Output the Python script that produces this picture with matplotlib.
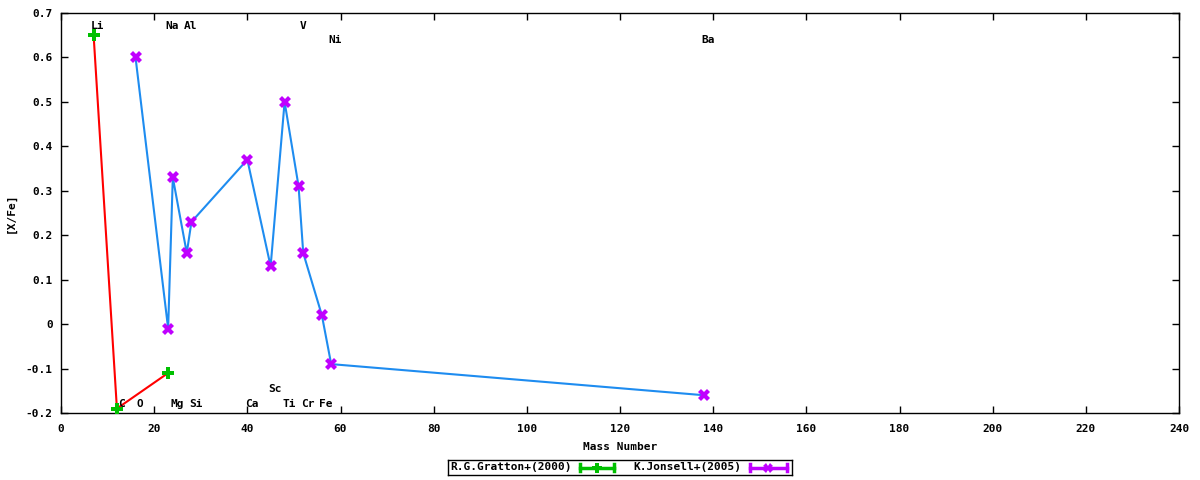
import matplotlib
matplotlib.use("Agg")
import matplotlib.pyplot as plt
from matplotlib.ticker import MultipleLocator, FuncFormatter

plt.rcParams['font.family'] = ['DejaVu Sans Mono']
plt.rcParams['font.size'] = 8
plt.rcParams['font.weight'] = 'bold'

# R.G.Gratton+(2000)
gratton_mass = [7, 12, 23]
gratton_xfe = [0.65, -0.19, -0.11]

# K.Jonsell+(2005)
jonsell_mass = [16, 23, 24, 27, 28, 40, 45, 48, 51, 52, 56, 58, 138]
jonsell_xfe = [0.60, -0.01, 0.33, 0.16, 0.23, 0.37, 0.13, 0.50, 0.31, 0.16, 0.02, -0.09, -0.16]

# element labels (name, mass number, height)
elem_names = ['Li', 'Na', 'Al', 'V', 'Ni', 'Ba', 'C', 'O', 'Mg', 'Si', 'Ca', 'Sc', 'Ti', 'Cr', 'Fe']
elem_mass = [7, 23, 27, 51, 58, 138, 12, 16, 24, 28, 40, 45, 48, 52, 56]
elem_y = [0.67, 0.67, 0.67, 0.67, 0.64, 0.64, -0.18, -0.18, -0.18, -0.18, -0.18, -0.145, -0.18, -0.18, -0.18]

fig = plt.figure(figsize=(12, 4.8), dpi=100)
ax = fig.add_axes([61/1200, 67/480, 1118/1200, 400/480])

ax.plot(gratton_mass, gratton_xfe, color='#ff0000', lw=1.5, zorder=2)
ax.plot(gratton_mass, gratton_xfe, ls='none', marker='P', ms=8, color='#00c000', mew=0, zorder=3)
ax.plot(jonsell_mass, jonsell_xfe, color='#1e8cf0', lw=1.5, zorder=2)
ax.plot(jonsell_mass, jonsell_xfe, ls='none', marker='X', ms=8, color='#c000ff', mew=0, zorder=3)

for name, m, y in zip(elem_names, elem_mass, elem_y):
    ax.annotate(name, (m, y), xytext=(3, 0), textcoords='offset points',
                ha='center', va='center', fontsize=8, fontweight='bold', zorder=4)

ax.set_xlim(0, 240)
ax.set_ylim(-0.2, 0.7)
ax.xaxis.set_major_locator(MultipleLocator(20))
ax.yaxis.set_major_locator(MultipleLocator(0.1))
ax.yaxis.set_major_formatter(FuncFormatter(lambda v, p: '0' if abs(v) < 1e-9 else '%.1f' % v))
ax.tick_params(direction='in', top=True, right=True, length=5, width=1, labelsize=8)
ax.tick_params(axis='x', pad=8)
ax.tick_params(axis='y', pad=6)
for s in ax.spines.values():
    s.set_linewidth(1)
ax.set_xlabel('Mass Number', fontsize=8, fontweight='bold', labelpad=6)
ax.set_ylabel('[X/Fe]', fontsize=8, fontweight='bold', labelpad=7)

# legend box below the plot
lg = fig.add_axes([448/1200, 5/480, 344/1200, 15/480])
lg.set_xlim(0, 344)
lg.set_ylim(0, 1)
lg.set_xticks([])
lg.set_yticks([])
for s in lg.spines.values():
    s.set_linewidth(1)
lg.text(2, 0.5, 'R.G.Gratton+(2000)', ha='left', va='center', fontsize=8)
lg.plot([132, 166], [0.5, 0.5], color='#00c000', lw=2.5)
lg.plot([132, 132], [0.25, 0.75], color='#00c000', lw=2.5)
lg.plot([166, 166], [0.25, 0.75], color='#00c000', lw=2.5)
lg.plot([149], [0.5], marker='P', ms=7, color='#00c000', mew=0)
lg.text(185, 0.5, 'K.Jonsell+(2005)', ha='left', va='center', fontsize=8)
lg.plot([302, 339], [0.5, 0.5], color='#c000ff', lw=2.5)
lg.plot([302, 302], [0.25, 0.75], color='#c000ff', lw=2.5)
lg.plot([339, 339], [0.25, 0.75], color='#c000ff', lw=2.5)
lg.plot([320], [0.5], marker='X', ms=7, color='#c000ff', mew=0)

fig.savefig('out.png', dpi=100)
